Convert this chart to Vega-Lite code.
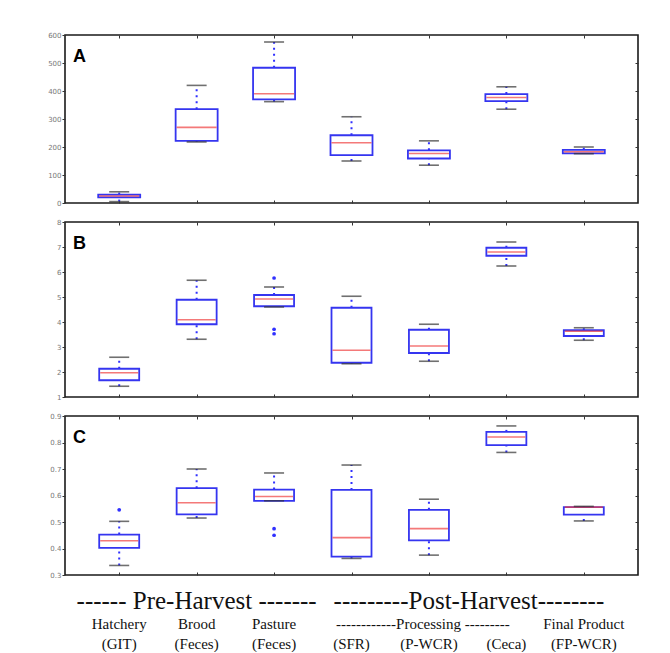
{
  "$schema": "https://vega.github.io/schema/vega-lite/v6.json",
  "background": "white",
  "padding": {"left": 46, "top": 30, "right": 30, "bottom": 0},
  "spacing": 10,
  "datasets": {
    "boxA": [
      {"group": "GIT", "min": 5, "q1": 20, "median": 25, "q3": 30, "max": 40},
      {"group": "Brood", "min": 218, "q1": 222, "median": 270, "q3": 335, "max": 420},
      {"group": "Pasture", "min": 362, "q1": 370, "median": 390, "q3": 483, "max": 575},
      {"group": "SFR", "min": 150, "q1": 171, "median": 215, "q3": 242, "max": 308},
      {"group": "P-WCR", "min": 135, "q1": 159, "median": 177, "q3": 188, "max": 222},
      {"group": "Ceca", "min": 335, "q1": 364, "median": 377, "q3": 389, "max": 415},
      {"group": "FP-WCR", "min": 176, "q1": 177, "median": 183, "q3": 190, "max": 200}
    ],
    "boxB": [
      {"group": "GIT", "min": 1.43, "q1": 1.67, "median": 1.97, "q3": 2.13, "max": 2.59},
      {"group": "Brood", "min": 3.31, "q1": 3.91, "median": 4.09, "q3": 4.89, "max": 5.67},
      {"group": "Pasture", "min": 4.6, "q1": 4.63, "median": 4.92, "q3": 5.08, "max": 5.4},
      {"group": "SFR", "min": 2.33, "q1": 2.37, "median": 2.87, "q3": 4.57, "max": 5.03},
      {"group": "P-WCR", "min": 2.43, "q1": 2.76, "median": 3.04, "q3": 3.69, "max": 3.91},
      {"group": "Ceca", "min": 6.24, "q1": 6.65, "median": 6.8, "q3": 6.97, "max": 7.2},
      {"group": "FP-WCR", "min": 3.27, "q1": 3.44, "median": 3.63, "q3": 3.67, "max": 3.77}
    ],
    "outB": [
      {"group": "Pasture", "value": 5.76},
      {"group": "Pasture", "value": 3.71},
      {"group": "Pasture", "value": 3.53}
    ],
    "boxC": [
      {"group": "GIT", "min": 0.336, "q1": 0.4025, "median": 0.429, "q3": 0.4525, "max": 0.5025},
      {"group": "Brood", "min": 0.515, "q1": 0.529, "median": 0.5725, "q3": 0.6275, "max": 0.7},
      {"group": "Pasture", "min": 0.58, "q1": 0.58, "median": 0.596, "q3": 0.6225, "max": 0.685},
      {"group": "SFR", "min": 0.3625, "q1": 0.369, "median": 0.441, "q3": 0.621, "max": 0.715},
      {"group": "P-WCR", "min": 0.375, "q1": 0.431, "median": 0.475, "q3": 0.546, "max": 0.586},
      {"group": "Ceca", "min": 0.7625, "q1": 0.79, "median": 0.821, "q3": 0.84, "max": 0.8625},
      {"group": "FP-WCR", "min": 0.504, "q1": 0.5275, "median": 0.556, "q3": 0.556, "max": 0.559}
    ],
    "outC": [
      {"group": "GIT", "value": 0.546},
      {"group": "Pasture", "value": 0.475},
      {"group": "Pasture", "value": 0.45}
    ],
    "labels": [
      {"row": "r1", "group": "Brood", "text": "------ Pre-Harvest -------"},
      {"row": "r1p", "group": "P-WCR", "text": "---------Post-Harvest--------"},
      {"row": "r2", "group": "GIT", "text": "Hatchery"},
      {"row": "r2", "group": "Brood", "text": "Brood"},
      {"row": "r2", "group": "Pasture", "text": "Pasture"},
      {"row": "r2p", "group": "P-WCR", "text": "------------Processing ---------"},
      {"row": "r2", "group": "FP-WCR", "text": "Final Product"},
      {"row": "r3", "group": "GIT", "text": "(GIT)"},
      {"row": "r3", "group": "Brood", "text": "(Feces)"},
      {"row": "r3", "group": "Pasture", "text": "(Feces)"},
      {"row": "r3", "group": "SFR", "text": "(SFR)"},
      {"row": "r3", "group": "P-WCR", "text": "(P-WCR)"},
      {"row": "r3", "group": "Ceca", "text": "(Ceca)"},
      {"row": "r3", "group": "FP-WCR", "text": "(FP-WCR)"}
    ]
  },
  "config": {
    "view": {"stroke": "#1a1a1a", "strokeWidth": 1.6},
    "axis": {"domain": false, "grid": false, "title": null, "tickColor": "#333", "labelColor": "#777", "labelFontSize": 7, "labelFont": "DejaVu Sans"},
    "title": {"font": "Liberation Sans", "fontSize": 18, "fontWeight": "bold", "color": "black", "anchor": "start", "frame": "group"}
  },
  "vconcat": [
    {
      "width": 573, "height": 168,
      "title": {"text": "A", "offset": -35, "dx": 8},
      "data": {"name": "boxA"},
      "encoding": {
        "x": {"field": "group", "type": "nominal", "sort": null,
              "scale": {"type": "point", "padding": 0.7, "domain": ["GIT", "Brood", "Pasture", "SFR", "P-WCR", "Ceca", "FP-WCR"]}}
      },
      "layer": [
        {"mark": {"type": "rule", "color": "#3030ff", "strokeWidth": 2, "strokeDash": [2, 4]},
         "encoding": {"x": {"field": "group", "type": "nominal", "axis": {"orient": "top", "labels": false, "tickSize": -3}},
                      "y": {"field": "min", "type": "quantitative", "scale": {"domain": [0, 600], "nice": false, "zero": false},
                            "axis": {"orient": "right", "values": [100, 200, 300, 400, 500], "labels": false, "tickSize": -3}},
                      "y2": {"field": "q1"}}},
        {"mark": {"type": "rule", "color": "#3030ff", "strokeWidth": 2, "strokeDash": [2, 4]},
         "encoding": {"x": {"field": "group", "type": "nominal", "axis": null}, "y": {"field": "q3", "type": "quantitative", "axis": null}, "y2": {"field": "max"}}},
        {"mark": {"type": "bar", "size": 42, "fill": "white", "stroke": "#3535f0", "strokeWidth": 1.8},
         "encoding": {"x": {"field": "group", "type": "nominal", "axis": {"orient": "bottom", "labels": false, "tickSize": -3}},
                      "y": {"field": "q1", "type": "quantitative", "axis": {"orient": "left", "values": [0, 100, 200, 300, 400, 500, 600], "tickSize": 3, "labelPadding": 1}},
                      "y2": {"field": "q3"}}},
        {"mark": {"type": "tick", "size": 40, "thickness": 1.6, "color": "#f04040"},
         "encoding": {"x": {"field": "group", "type": "nominal", "axis": null}, "y": {"field": "median", "type": "quantitative", "axis": null}}},
        {"mark": {"type": "tick", "size": 20, "thickness": 1.6, "color": "#333"},
         "encoding": {"x": {"field": "group", "type": "nominal", "axis": null}, "y": {"field": "min", "type": "quantitative", "axis": null}}},
        {"mark": {"type": "tick", "size": 20, "thickness": 1.6, "color": "#333"},
         "encoding": {"x": {"field": "group", "type": "nominal", "axis": null}, "y": {"field": "max", "type": "quantitative", "axis": null}}}
      ],
      "resolve": {"axis": {"x": "independent", "y": "independent"}}
    },
    {
      "width": 573, "height": 175,
      "title": {"text": "B", "offset": -35, "dx": 8},
      "encoding": {
        "x": {"field": "group", "type": "nominal", "sort": null,
              "scale": {"type": "point", "padding": 0.7, "domain": ["GIT", "Brood", "Pasture", "SFR", "P-WCR", "Ceca", "FP-WCR"]}}
      },
      "layer": [
        {"data": {"name": "boxB"}, "mark": {"type": "rule", "color": "#3030ff", "strokeWidth": 2, "strokeDash": [2, 4]},
         "encoding": {"x": {"field": "group", "type": "nominal", "axis": {"orient": "top", "labels": false, "tickSize": -3}},
                      "y": {"field": "min", "type": "quantitative", "scale": {"domain": [1, 8], "nice": false, "zero": false},
                            "axis": {"orient": "right", "values": [2, 3, 4, 5, 6, 7], "labels": false, "tickSize": -3}},
                      "y2": {"field": "q1"}}},
        {"data": {"name": "boxB"}, "mark": {"type": "rule", "color": "#3030ff", "strokeWidth": 2, "strokeDash": [2, 4]},
         "encoding": {"x": {"field": "group", "type": "nominal", "axis": null}, "y": {"field": "q3", "type": "quantitative", "axis": null}, "y2": {"field": "max"}}},
        {"data": {"name": "boxB"}, "mark": {"type": "bar", "size": 40, "fill": "white", "stroke": "#3535f0", "strokeWidth": 1.8},
         "encoding": {"x": {"field": "group", "type": "nominal", "axis": {"orient": "bottom", "labels": false, "tickSize": -3}},
                      "y": {"field": "q1", "type": "quantitative", "axis": {"orient": "left", "values": [1, 2, 3, 4, 5, 6, 7, 8], "tickSize": 3, "labelPadding": 1}},
                      "y2": {"field": "q3"}}},
        {"data": {"name": "boxB"}, "mark": {"type": "tick", "size": 38, "thickness": 1.6, "color": "#f04040"},
         "encoding": {"x": {"field": "group", "type": "nominal", "axis": null}, "y": {"field": "median", "type": "quantitative", "axis": null}}},
        {"data": {"name": "boxB"}, "mark": {"type": "tick", "size": 20, "thickness": 1.6, "color": "#333"},
         "encoding": {"x": {"field": "group", "type": "nominal", "axis": null}, "y": {"field": "min", "type": "quantitative", "axis": null}}},
        {"data": {"name": "boxB"}, "mark": {"type": "tick", "size": 20, "thickness": 1.6, "color": "#333"},
         "encoding": {"x": {"field": "group", "type": "nominal", "axis": null}, "y": {"field": "max", "type": "quantitative", "axis": null}}},
        {"data": {"name": "outB"}, "mark": {"type": "circle", "size": 14, "color": "#3030ff", "opacity": 1},
         "encoding": {"x": {"field": "group", "type": "nominal", "axis": null}, "y": {"field": "value", "type": "quantitative", "axis": null}}}
      ],
      "resolve": {"axis": {"x": "independent", "y": "independent"}}
    },
    {
      "width": 573, "height": 159,
      "title": {"text": "C", "offset": -35, "dx": 8},
      "encoding": {
        "x": {"field": "group", "type": "nominal", "sort": null,
              "scale": {"type": "point", "padding": 0.7, "domain": ["GIT", "Brood", "Pasture", "SFR", "P-WCR", "Ceca", "FP-WCR"]}}
      },
      "layer": [
        {"data": {"name": "boxC"}, "mark": {"type": "rule", "color": "#3030ff", "strokeWidth": 2, "strokeDash": [2, 4]},
         "encoding": {"x": {"field": "group", "type": "nominal", "axis": {"orient": "top", "labels": false, "tickSize": -3}},
                      "y": {"field": "min", "type": "quantitative", "scale": {"domain": [0.3, 0.9], "nice": false, "zero": false},
                            "axis": {"orient": "right", "values": [0.4, 0.5, 0.6, 0.7, 0.8], "labels": false, "tickSize": -3}},
                      "y2": {"field": "q1"}}},
        {"data": {"name": "boxC"}, "mark": {"type": "rule", "color": "#3030ff", "strokeWidth": 2, "strokeDash": [2, 4]},
         "encoding": {"x": {"field": "group", "type": "nominal", "axis": null}, "y": {"field": "q3", "type": "quantitative", "axis": null}, "y2": {"field": "max"}}},
        {"data": {"name": "boxC"}, "mark": {"type": "bar", "size": 40, "fill": "white", "stroke": "#3535f0", "strokeWidth": 1.8},
         "encoding": {"x": {"field": "group", "type": "nominal", "axis": {"orient": "bottom", "labels": false, "tickSize": -3}},
                      "y": {"field": "q1", "type": "quantitative", "axis": {"orient": "left", "values": [0.3, 0.4, 0.5, 0.6, 0.7, 0.8, 0.9], "format": ".1f", "tickSize": 3, "labelPadding": 1}},
                      "y2": {"field": "q3"}}},
        {"data": {"name": "boxC"}, "mark": {"type": "tick", "size": 38, "thickness": 1.6, "color": "#f04040"},
         "encoding": {"x": {"field": "group", "type": "nominal", "axis": null}, "y": {"field": "median", "type": "quantitative", "axis": null}}},
        {"data": {"name": "boxC"}, "mark": {"type": "tick", "size": 20, "thickness": 1.6, "color": "#333"},
         "encoding": {"x": {"field": "group", "type": "nominal", "axis": null}, "y": {"field": "min", "type": "quantitative", "axis": null}}},
        {"data": {"name": "boxC"}, "mark": {"type": "tick", "size": 20, "thickness": 1.6, "color": "#333"},
         "encoding": {"x": {"field": "group", "type": "nominal", "axis": null}, "y": {"field": "max", "type": "quantitative", "axis": null}}},
        {"data": {"name": "outC"}, "mark": {"type": "circle", "size": 14, "color": "#3030ff", "opacity": 1},
         "encoding": {"x": {"field": "group", "type": "nominal", "axis": null}, "y": {"field": "value", "type": "quantitative", "axis": null}}}
      ],
      "resolve": {"axis": {"x": "independent", "y": "independent"}}
    },
    {
      "width": 573, "height": 53,
      "view": {"stroke": null},
      "data": {"name": "labels"},
      "encoding": {
        "x": {"field": "group", "type": "nominal", "sort": null, "axis": null,
              "scale": {"type": "point", "padding": 0.7, "domain": ["GIT", "Brood", "Pasture", "SFR", "P-WCR", "Ceca", "FP-WCR"]}},
        "y": {"field": "rowy", "type": "nominal", "axis": null,
              "scale": {"type": "point", "padding": 0.3, "domain": ["r1", "r2", "r3"]}},
        "text": {"field": "text"}
      },
      "layer": [
        {"transform": [{"filter": "datum.row === 'r1'"}, {"calculate": "'r1'", "as": "rowy"}],
         "mark": {"type": "text", "font": "Times New Roman, Liberation Serif, DejaVu Serif, serif", "fontSize": 25, "color": "#111", "baseline": "middle", "dy": -2}},
        {"transform": [{"filter": "datum.row === 'r1p'"}, {"calculate": "'r1'", "as": "rowy"}],
         "mark": {"type": "text", "font": "Times New Roman, Liberation Serif, DejaVu Serif, serif", "fontSize": 25, "color": "#111", "baseline": "middle", "dx": 40, "dy": -2}},
        {"transform": [{"filter": "datum.row === 'r2'"}, {"calculate": "'r2'", "as": "rowy"}],
         "mark": {"type": "text", "font": "Times New Roman, Liberation Serif, DejaVu Serif, serif", "fontSize": 15, "color": "#111", "baseline": "middle"}},
        {"transform": [{"filter": "datum.row === 'r2p'"}, {"calculate": "'r2'", "as": "rowy"}],
         "mark": {"type": "text", "font": "Times New Roman, Liberation Serif, DejaVu Serif, serif", "fontSize": 15, "color": "#111", "baseline": "middle", "dx": -6}},
        {"transform": [{"filter": "datum.row === 'r3'"}, {"calculate": "'r3'", "as": "rowy"}],
         "mark": {"type": "text", "font": "Times New Roman, Liberation Serif, DejaVu Serif, serif", "fontSize": 15, "color": "#111", "baseline": "middle"}}
      ]
    }
  ]
}
